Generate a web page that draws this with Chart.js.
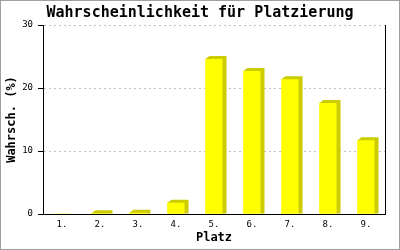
<!DOCTYPE html>
<html>
<head>
<meta charset="utf-8">
<script src="https://cdn.jsdelivr.net/npm/chart.js@4"></script>
<style>
  html, body { margin: 0; padding: 0; background: #fff; }
  #wrap { width: 400px; height: 250px; }
</style>
</head>
<body>
<div id="wrap"><canvas id="chart" width="400" height="250"></canvas></div>
<script>
const places = ['1.', '2.', '3.', '4.', '5.', '6.', '7.', '8.', '9.'];
const probs = [0, 0.1, 0.2, 1.8, 24.6, 22.7, 21.4, 17.6, 11.7];
const yTicks = [0, 10, 20, 30];

const mono = 'DejaVu Sans Mono';
const depthX = 4;
const depthY = 3;

// white background + thin grey frame round the picture
const frame = {
  id: 'frame',
  beforeDraw(chart) {
    const ctx = chart.ctx;
    ctx.save();
    ctx.fillStyle = '#fff';
    ctx.fillRect(0, 0, chart.width, chart.height);
    ctx.restore();
  },
  afterDraw(chart) {
    const ctx = chart.ctx;
    ctx.save();
    ctx.strokeStyle = '#a0a0a0';
    ctx.lineWidth = 1;
    ctx.strokeRect(0.5, 0.5, chart.width - 1, chart.height - 1);
    ctx.restore();
  }
};

// darker top and side faces to give the bars their 3D look
const depth = {
  id: 'depth',
  afterDatasetsDraw(chart) {
    const ctx = chart.ctx;
    ctx.save();
    ctx.fillStyle = '#cccc00';
    chart.getDatasetMeta(0).data.forEach((bar, i) => {
      if (!probs[i]) return;
      const left = bar.x - bar.width / 2;
      const right = bar.x + bar.width / 2;
      ctx.beginPath();
      ctx.moveTo(left, bar.y);
      ctx.lineTo(left + depthX, bar.y - depthY);
      ctx.lineTo(right + depthX, bar.y - depthY);
      ctx.lineTo(right + depthX, bar.base);
      ctx.lineTo(right, bar.base);
      ctx.lineTo(right, bar.y);
      ctx.closePath();
      ctx.fill();
    });
    ctx.restore();
  }
};

const chart = new Chart(document.getElementById('chart'), {
  type: 'bar',
  plugins: [frame, depth],
  data: {
    labels: places,
    datasets: [{
      data: probs,
      backgroundColor: '#ffff00',
      borderWidth: 0,
      barThickness: 17,
    }]
  },
  options: {
    responsive: false,
    animation: false,
    layout: {
      padding: 0
    },
    scales: {
      x: {
        grid: { display: false, drawTicks: false },
        border: { display: true, color: '#000', width: 1 },
        ticks: {
          color: '#000',
          padding: 5,
          font: { family: mono, size: 9 },
        },
        title: {
          display: true,
          text: 'Platz',
          color: '#000',
          padding: { top: 0, bottom: 5 },
          font: { family: mono, size: 12, weight: 'bold' },
        },
        afterFit: (scale) => { scale.height = 36; },
      },
      y: {
        min: 0,
        max: 30,
        afterBuildTicks: (scale) => { scale.ticks = yTicks.map(v => ({ value: v })); },
        grid: {
          color: (c) => c.tick && c.tick.value === 0 ? 'rgba(0,0,0,0)' : '#c0c0c0',
          drawTicks: true,
          tickLength: 5,
          tickColor: '#000',
          tickBorderDash: [],
        },
        border: { display: true, color: '#000', width: 1, dash: [2, 3] },
        ticks: {
          color: '#000',
          padding: 5,
          font: { family: mono, size: 9 },
        },
        title: {
          display: true,
          text: 'Wahrsch. (%)',
          color: '#000',
          padding: { top: 5, bottom: 0 },
          font: { family: mono, size: 12, weight: 'bold' },
        },
        afterFit: (scale) => { scale.width = 43; },
      },
      yRight: {
        position: 'right',
        min: 0,
        max: 30,
        grid: { display: false, drawTicks: false },
        ticks: { display: false },
        border: { display: true, color: '#000', width: 1 },
        afterFit: (scale) => { scale.width = 15; },
      },
    },
    plugins: {
      legend: { display: false },
      tooltip: { enabled: false },
      title: {
        display: true,
        text: 'Wahrscheinlichkeit für Platzierung',
        color: '#000',
        padding: { top: 4, bottom: 3 },
        font: { family: mono, size: 15, weight: 'bold', lineHeight: 1.2 },
      },
    },
  },
});
</script>
</body>
</html>
